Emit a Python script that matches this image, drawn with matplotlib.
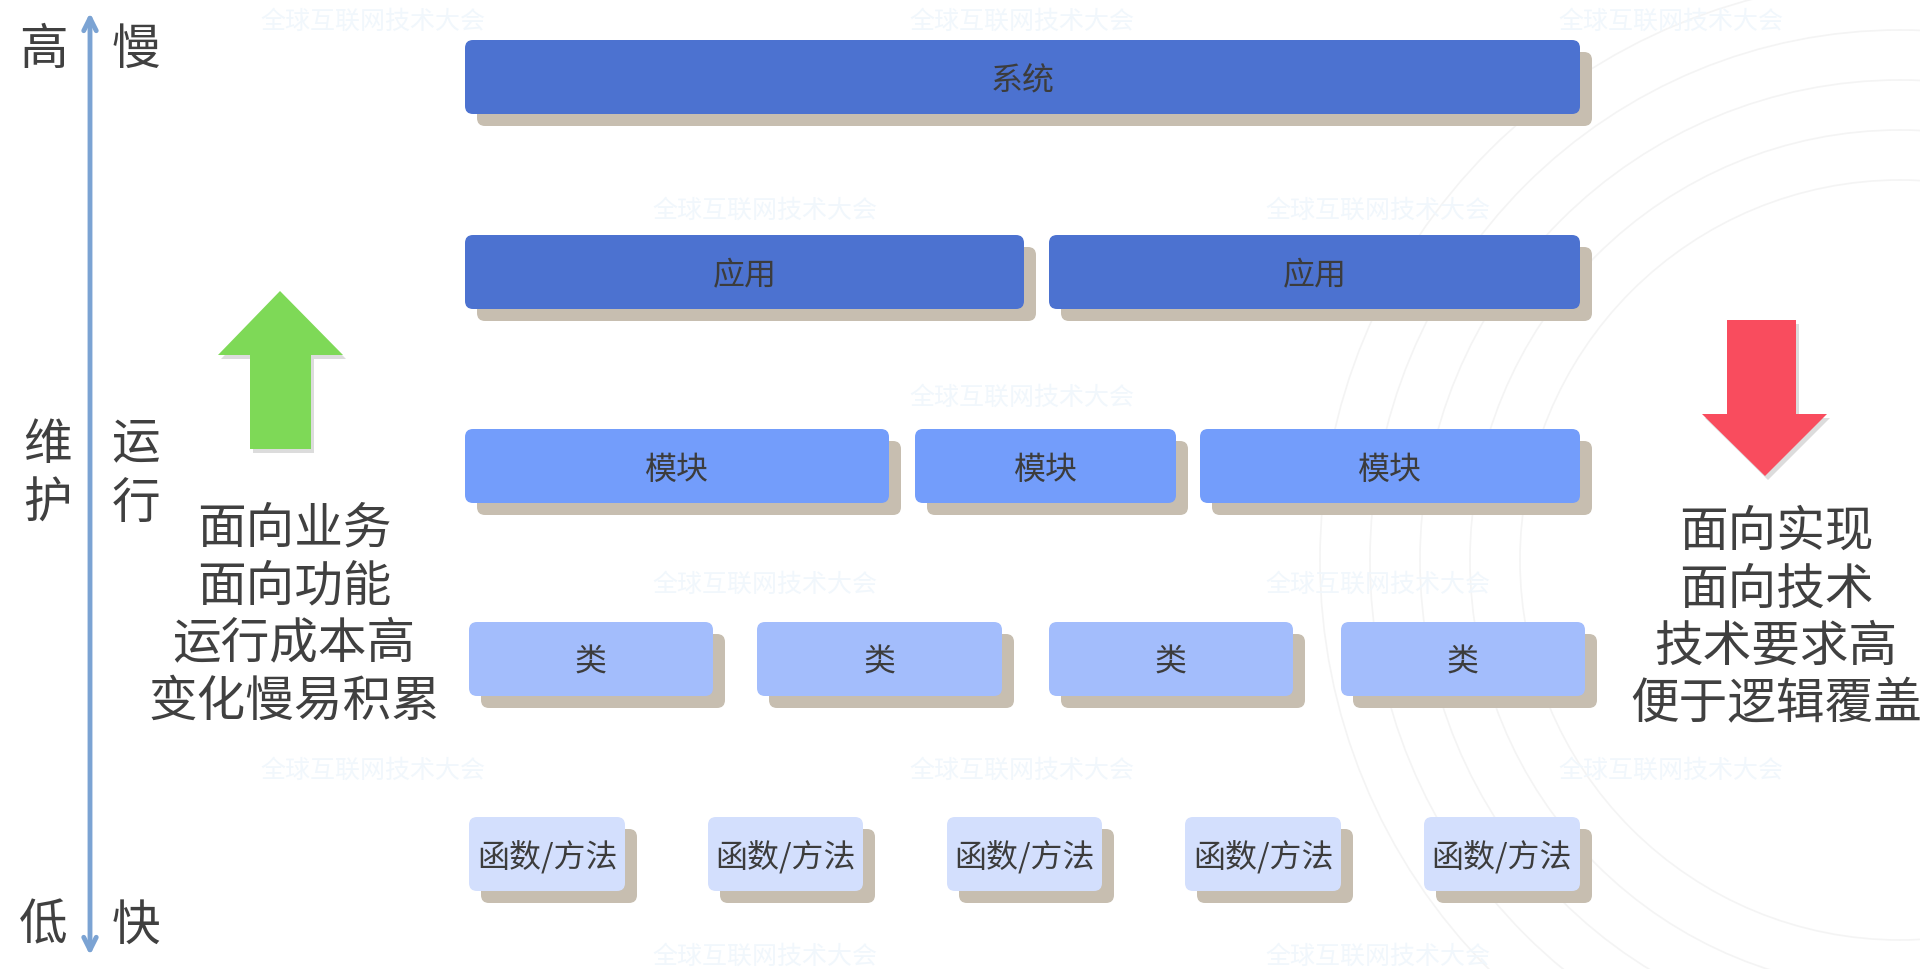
import matplotlib.pyplot as plt
from matplotlib.patches import FancyBboxPatch, Polygon, Circle

plt.rcParams['font.family'] = ['Noto Sans CJK SC', 'DejaVu Sans']

# layers, top to bottom
layer_names = ['系统', '应用', '模块', '类', '函数/方法']
layer_counts = [1, 2, 3, 4, 5]
layer_colors = ['#4c72d0', '#4c72d0', '#739dfb', '#a3bdfc', '#d3dffd']

# horizontal spans of each box (pixels), one list per layer
layer_spans = [
    [(465, 1580)],
    [(465, 1024), (1049, 1580)],
    [(465, 889), (915, 1176), (1200, 1580)],
    [(469, 713), (757, 1002), (1049, 1293), (1341, 1585)],
    [(469, 625), (708, 863), (947, 1102), (1185, 1341), (1424, 1580)],
]
layer_tops = [40, 235, 429, 622, 817]
box_h = 74

left_notes = ['面向业务', '面向功能', '运行成本高', '变化慢易积累']
right_notes = ['面向实现', '面向技术', '技术要求高', '便于逻辑覆盖']

fig = plt.figure(figsize=(19.2, 9.69), dpi=100)
ax = fig.add_axes([0, 0, 1, 1])
ax.set_xlim(0, 1920)
ax.set_ylim(969, 0)
ax.axis('off')

# faint background decoration
for r in [380, 430, 480, 530, 580]:
    ax.add_patch(Circle((1900, 560), r, fill=False, ec='#f4f4f4', lw=1.2, zorder=0))
wm = [(373, 22), (1022, 22), (1671, 22), (1022, 398), (373, 771), (1022, 771),
      (1671, 771), (765, 211), (1378, 211), (765, 585), (1378, 585), (765, 957),
      (1378, 957)]
for x, y in wm:
    ax.text(x, y, '全球互联网技术大会', fontsize=18, color='#f1f7fc',
            ha='center', va='center', zorder=0)

# boxes with offset shadow
sh = 12
for name, spans, top, col in zip(layer_names, layer_spans, layer_tops, layer_colors):
    for x0, x1 in spans:
        ax.add_patch(FancyBboxPatch((x0 + sh, top + sh), x1 - x0, box_h,
                                    boxstyle='round,pad=0,rounding_size=8',
                                    fc='#c7beb0', ec='none', zorder=2))
        ax.add_patch(FancyBboxPatch((x0, top), x1 - x0, box_h,
                                    boxstyle='round,pad=0,rounding_size=8',
                                    fc=col, ec='none', zorder=3))
        ax.text((x0 + x1) / 2, top + box_h / 2 + 4, name, fontsize=23, color='#3c3c3c',
                ha='center', va='center', zorder=4)

# vertical double arrow
ax.annotate('', xy=(90, 10), xytext=(90, 958),
            arrowprops=dict(arrowstyle='<->,head_length=0.9,head_width=0.45',
                            color='#7ba3d3', lw=3.5), zorder=3)
side_fs = 35
for txt, x, y in [('高', 43, 50), ('慢', 136, 50), ('维', 47, 445), ('护', 47, 504),
                  ('运', 136, 445), ('行', 136, 504), ('低', 43, 926), ('快', 136, 926)]:
    ax.text(x, y, txt, fontsize=side_fs, color='#404040', ha='center', va='center')

# green up arrow
green = [(280, 291), (343, 355), (311, 355), (311, 449), (250, 449), (250, 355), (218, 355)]
ax.add_patch(Polygon([(x + 3, y + 4) for x, y in green], fc='#dcdcdc', ec='none', zorder=2))
ax.add_patch(Polygon(green, fc='#7ed957', ec='none', zorder=3))

# red down arrow
red = [(1727, 320), (1796, 320), (1796, 414), (1827, 414), (1765, 476), (1702, 414), (1727, 414)]
ax.add_patch(Polygon([(x + 3, y + 4) for x, y in red], fc='#dcdcdc', ec='none', zorder=2))
ax.add_patch(Polygon(red, fc='#f94c5e', ec='none', zorder=3))

line_y = [529, 587, 644, 702]
for txt, y in zip(left_notes, line_y):
    ax.text(294, y, txt, fontsize=side_fs, color='#404040', ha='center', va='center')
for txt, y in zip(right_notes, line_y):
    ax.text(1776, y + 3, txt, fontsize=side_fs, color='#404040', ha='center', va='center')

fig.savefig('out.png', dpi=100, facecolor='white')
